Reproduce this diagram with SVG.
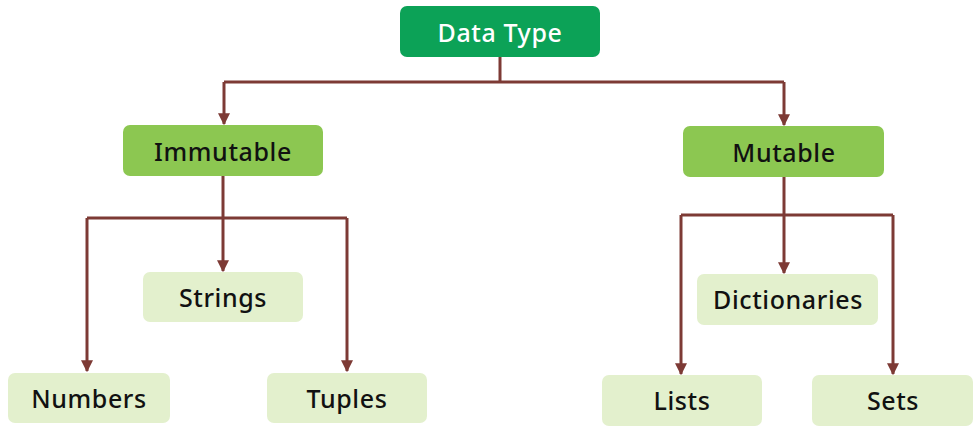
<svg xmlns="http://www.w3.org/2000/svg" width="979" height="431" viewBox="0 0 979 431">
<style>
.c{fill:none;stroke:#7d3a35;stroke-width:3}
.t{font-family:"Noto Sans","Liberation Sans",sans-serif;font-size:25px;font-weight:500;letter-spacing:0.6px;text-anchor:middle;dominant-baseline:central;fill:#111}
.l1{fill:#8cc751}
.l2{fill:#e3f0cd}
</style>
<defs>
<marker id="a" viewBox="0 0 10 10" refX="9" refY="5" markerWidth="4" markerHeight="4" orient="auto" markerUnits="strokeWidth">
<path d="M0,0 L10,5 L0,10 z" fill="#7d3a35"/>
</marker>
</defs>
<rect width="979" height="431" fill="#fff"/>
<g id="connectors">
<path class="c" d="M500,57 V82"/>
<path class="c" d="M224,82 H784"/>
<path class="c" d="M224,82 V124" marker-end="url(#a)"/>
<path class="c" d="M784,82 V125" marker-end="url(#a)"/>
<path class="c" d="M223,176 V271" marker-end="url(#a)"/>
<path class="c" d="M87,218 H347"/>
<path class="c" d="M87,218 V371" marker-end="url(#a)"/>
<path class="c" d="M347,218 V371" marker-end="url(#a)"/>
<path class="c" d="M784,177 V273" marker-end="url(#a)"/>
<path class="c" d="M681,215 H893"/>
<path class="c" d="M681,215 V374" marker-end="url(#a)"/>
<path class="c" d="M893,215 V374" marker-end="url(#a)"/>
</g>
<g id="datatype"><rect x="400" y="6" width="200" height="51" rx="7" fill="#0ca257"/><text class="t" x="500" y="32" style="fill:#fff">Data Type</text></g>
<g id="immutable"><rect class="l1" x="123" y="125" width="200" height="51" rx="7"/><text class="t" x="223" y="151">Immutable</text></g>
<g id="mutable"><rect class="l1" x="683" y="126" width="201" height="51" rx="7"/><text class="t" x="784" y="152">Mutable</text></g>
<g id="strings"><rect class="l2" x="143" y="272" width="160" height="50" rx="7"/><text class="t" x="223" y="297">Strings</text></g>
<g id="numbers"><rect class="l2" x="8" y="373" width="162" height="50" rx="7"/><text class="t" x="89" y="398">Numbers</text></g>
<g id="tuples"><rect class="l2" x="267" y="373" width="160" height="50" rx="7"/><text class="t" x="347" y="398">Tuples</text></g>
<g id="dictionaries"><rect class="l2" x="697" y="274" width="181" height="51" rx="7"/><text class="t" x="788" y="299">Dictionaries</text></g>
<g id="lists"><rect class="l2" x="602" y="375" width="160" height="51" rx="7"/><text class="t" x="682" y="400">Lists</text></g>
<g id="sets"><rect class="l2" x="812" y="375" width="161" height="51" rx="7"/><text class="t" x="893" y="400">Sets</text></g>
</svg>
